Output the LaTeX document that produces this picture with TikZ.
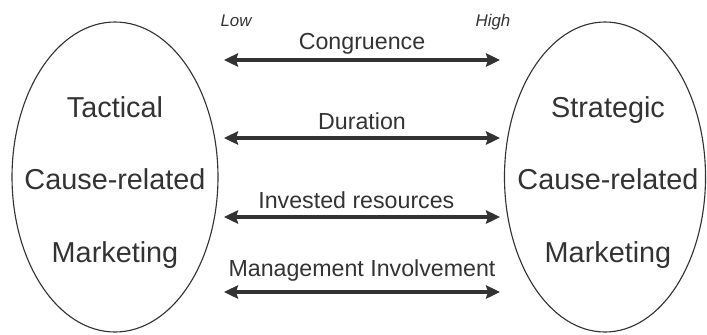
\documentclass[tikz,border=0pt]{standalone}
\usepackage{fontspec}
\setmainfont{Liberation Sans}
\usetikzlibrary{shapes.geometric, arrows.meta, positioning}
\definecolor{ink}{HTML}{333333}
\tikzset{
oval/.style={ellipse, draw=ink, line width=0.8pt, inner sep=0pt}, % the two CRM ellipses
big/.style={text=ink, anchor=base, font=\fontsize{20.5}{24}\selectfont},
dim/.style={text=ink, anchor=base, font=\fontsize{16.5}{20}\selectfont},
scalelabel/.style={text=ink, anchor=base, font=\fontsize{12}{14}\selectfont\itshape},
scalearrow/.style={{Stealth[length=10pt, width=9.5pt, inset=1.5pt]}-{Stealth[length=10pt, width=9.5pt, inset=1.5pt]}, line width=2.8pt, draw=ink},
}
\begin{document}
\begin{tikzpicture}[x=0.7113pt, y=-0.7113pt]
            \useasboundingbox (0,0) rectangle (707,334);
            \node[oval, minimum width=146.5pt, minimum height=220.5pt] (tac) at (115,177) {};
            \node[oval, minimum width=143pt, minimum height=220.5pt] (str) at (605,177) {};
            \node[big] (tac1) at (115,117) {Tactical};
            \node[big] (tac2) at (115,189) {Cause-related};
            \node[big] (tac3) at (115,262) {Marketing};
            \node[big] (str1) at (608,117) {Strategic};
            \node[big] (str2) at (608,189) {Cause-related};
            \node[big] (str3) at (608,262) {Marketing};
            \node[scalelabel] (low) at (236,26) {Low};
            \node[scalelabel] (high) at (493,26) {High};
            \coordinate (l1) at (224,60);
            \coordinate (h1) at (500,60);
            \coordinate (l2) at (224,138);
            \coordinate (h2) at (500,138);
            \coordinate (l3) at (224,217);
            \coordinate (h3) at (500,217);
            \coordinate (l4) at (224,292);
            \coordinate (h4) at (500,292);
            \draw[scalearrow] (l1) -- node[dim, yshift=7.8pt] (cong) {Congruence} (h1);
            \draw[scalearrow] (l2) -- node[dim, yshift=5.7pt] (dur) {Duration} (h2);
            \draw[scalearrow] (l3) -- node[dim, yshift=5.7pt, xshift=-4pt] (res) {Invested resources} (h3);
            \draw[scalearrow] (l4) -- node[dim, yshift=10.7pt] (man) {Management Involvement} (h4);
            \end{tikzpicture}
\end{document}
